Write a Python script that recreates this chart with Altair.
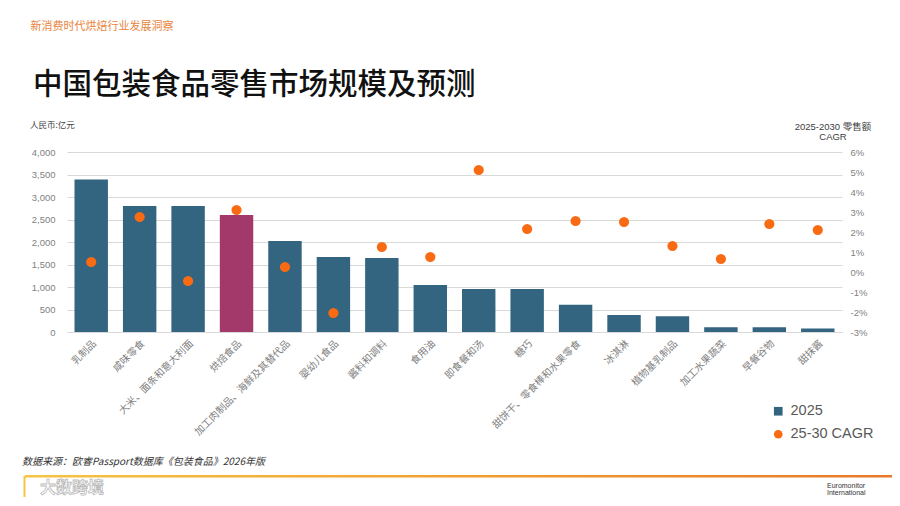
import altair as alt
import pandas as pd

# ---- data ----
categories = [
    "乳制品", "咸味零食", "大米、面条和意大利面", "烘焙食品",
    "加工肉制品、海鲜及其替代品", "婴幼儿食品", "酱料和调料", "食用油",
    "即食餐和汤", "糖巧", "甜饼干、零食棒和水果零食", "冰淇淋",
    "植物基乳制品", "加工水果蔬菜", "早餐谷物", "甜抹酱",
]
size_2025 = [3390, 2800, 2800, 2600, 2020, 1665, 1645, 1045,
             955, 955, 605, 380, 350, 105, 105, 80]
cagr_pct = [0.5, 2.75, -0.45, 3.1, 0.25, -2.05, 1.25, 0.75,
            5.1, 2.15, 2.55, 2.5, 1.3, 0.65, 2.4, 2.1]
series_names = ["2025", "25-30 CAGR"]
highlight = "烘焙食品"
left_ticks = [0, 500, 1000, 1500, 2000, 2500, 3000, 3500, 4000]
right_ticks = [-3, -2, -1, 0, 1, 2, 3, 4, 5, 6]

header_text = "新消费时代烘焙行业发展洞察"
title_text = "中国包装食品零售市场规模及预测"
left_unit = "人民币:亿元"
right_unit = ["2025-2030 零售额", "CAGR"]
source_text = "数据来源：欧睿Passport数据库《包装食品》2026年版"

# ---- styles ----
BAR = "#336480"
MAG = "#A3386B"
ORANGE = "#F96B12"
GRID = "#D9D9D9"
LABEL = "#7F7F7F"
FONT = "Liberation Sans, Noto Sans CJK SC, sans-serif"
CJK = "Noto Sans CJK SC, sans-serif"

rows = []
for c, s, g in zip(categories, size_2025, cagr_pct):
    rows.append({"cat": c, "series": series_names[0], "value": s})
    rows.append({"cat": c, "series": series_names[1], "value": g})
df = pd.DataFrame(rows)

x_enc = alt.X(
    "cat:N", sort=categories,
    scale=alt.Scale(paddingInner=0.31, paddingOuter=0.155),
    axis=alt.Axis(title=None, labelAngle=-45, labelFontSize=10, labelColor=LABEL,
                  labelFont=CJK, ticks=False, domain=True, domainColor=GRID,
                  labelPadding=6, labelLimit=300),
)

color_scale = alt.Scale(domain=series_names, range=[BAR, ORANGE])
legend = alt.Legend(title=None, orient="none", legendX=704, legendY=252,
                    labelFontSize=14.5, labelColor="#595959", labelFont=FONT,
                    symbolSize=75, rowPadding=8, padding=0, labelOffset=5)

base = alt.Chart(df)

bars = base.transform_filter(alt.datum.series == series_names[0]).mark_bar().encode(
    x=x_enc,
    y=alt.Y("value:Q", scale=alt.Scale(domain=[0, 4000], nice=False),
            axis=alt.Axis(title=None, values=left_ticks, format=",.0f", grid=True,
                          gridColor=GRID, domain=False, ticks=False, labelPadding=12,
                          labelFontSize=9.5, labelColor=LABEL, labelFont=FONT)),
    color=alt.condition(alt.datum.cat == highlight, alt.value(MAG),
                        alt.Color("series:N", scale=color_scale, legend=legend)),
)

points = base.transform_filter(alt.datum.series == series_names[1]).mark_point(
    filled=True, size=105, opacity=1
).encode(
    x=x_enc,
    y=alt.Y("value:Q", scale=alt.Scale(domain=[-3, 6], nice=False),
            axis=alt.Axis(title=None, orient="right", values=right_ticks,
                          labelExpr="datum.value + '%'", grid=False, domain=False,
                          ticks=False, labelPadding=8, labelFontSize=9.5,
                          labelColor=LABEL, labelFont=FONT)),
    color=alt.Color("series:N", scale=color_scale, legend=legend),
    shape=alt.Shape("series:N", scale=alt.Scale(domain=series_names,
                                                range=["square", "circle"]),
                    legend=legend),
)


def txt(text, x, y, size, color, align="left", weight="normal", style="normal",
        font=CJK, **kw):
    return alt.Chart(pd.DataFrame({"t": [text]})).mark_text(
        x=x, y=y, align=align, baseline="middle", fontSize=size, color=color,
        fontWeight=weight, fontStyle=style, font=font, **kw
    ).encode(text="t:N")


annotations = [
    txt(header_text, -36.5, -124.7, 11, "#E8843C"),
    txt(title_text, -34, -67, 29.5, "#111111", weight=500),
    txt(left_unit, -37, -27, 8.5, "#404040"),
    txt(right_unit[0], 766, -24.7, 9.5, "#404040", align="center", font=FONT),
    txt(right_unit[1], 766, -14.7, 9.5, "#404040", align="center", font=FONT),
    txt(source_text, -45, 310, 10, "#333333", style="italic"),
    txt("大数跨境", -27, 336, 16, "#FFFFFF", weight="bold", stroke="#BBBBBB",
        strokeWidth=0.8),
    txt("Euromonitor", 760, 334, 7, "#333333", font=FONT),
    txt("International", 760, 341, 7, "#333333", font=FONT),
]

line = alt.Chart(pd.DataFrame({"k": [0]})).mark_rect(
    fill=alt.Gradient(gradient="linear",
                      stops=[alt.GradientStop(color="#F6C443", offset=0),
                             alt.GradientStop(color="#F0A030", offset=0.5),
                             alt.GradientStop(color="#E8782A", offset=1)],
                      x1=0, x2=1, y1=0, y2=0)
).encode(x=alt.value(-42), x2=alt.value(830), y=alt.value(323), y2=alt.value(325.5))

line_v = alt.Chart(pd.DataFrame({"k": [0]})).mark_rect(color="#F6C443").encode(
    x=alt.value(-43.5), x2=alt.value(-41.5), y=alt.value(324), y2=alt.value(345))

chart = alt.layer(bars, points, line, line_v, *annotations).resolve_scale(
    y="independent"
).properties(
    width=775, height=180,
    autosize=alt.AutoSizeParams(type="none"),
    padding={"left": 59, "top": 144, "right": 50, "bottom": 166},
    background="white",
).configure_view(stroke=None)

chart.save("out.html", embed_options={"renderer": "svg", "actions": False})
